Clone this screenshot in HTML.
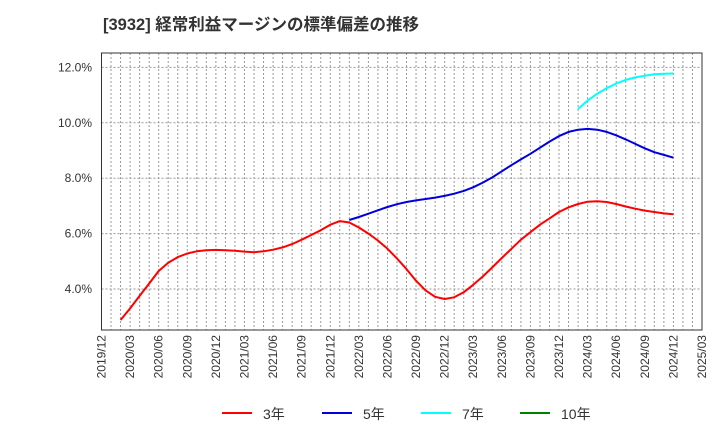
<!DOCTYPE html>
<html><head><meta charset="utf-8"><style>
body{margin:0;background:#fff;font-family:"Liberation Sans","Noto Sans CJK JP",sans-serif}
svg text{font-family:"Liberation Sans","Noto Sans CJK JP",sans-serif}
</style></head><body>
<svg id="c" width="720" height="440" xmlns="http://www.w3.org/2000/svg">
<text x="103" y="30" font-size="16.5" font-weight="bold" fill="#333">[3932]  経常利益マージンの標準偏差の推移</text>
<g id="grid"></g><g id="axes"></g><g id="series"></g><g id="legend"></g>
</svg>
<script>
const xLabels=["2019/12","2020/03","2020/06","2020/09","2020/12","2021/03","2021/06","2021/09","2021/12","2022/03","2022/06","2022/09","2022/12","2023/03","2023/06","2023/09","2023/12","2024/03","2024/06","2024/09","2024/12","2025/03"];
const yTicks=[4,6,8,10,12];
const s3Start=2;
const s3=[2.88,3.3,3.75,4.2,4.65,4.95,5.15,5.28,5.36,5.4,5.41,5.4,5.38,5.35,5.33,5.36,5.42,5.5,5.62,5.78,5.95,6.12,6.32,6.45,6.4,6.22,6.0,5.75,5.45,5.1,4.72,4.3,3.95,3.72,3.64,3.7,3.88,4.15,4.45,4.78,5.12,5.45,5.78,6.05,6.32,6.55,6.78,6.95,7.07,7.15,7.17,7.14,7.07,6.98,6.9,6.83,6.78,6.73,6.7];
const s5Start=26;
const s5=[6.49,6.6,6.72,6.84,6.96,7.06,7.14,7.2,7.25,7.3,7.36,7.44,7.54,7.67,7.84,8.03,8.25,8.47,8.68,8.88,9.1,9.32,9.52,9.67,9.75,9.78,9.75,9.67,9.55,9.4,9.24,9.08,8.94,8.84,8.74];
const s7Start=50;
const s7=[10.5,10.8,11.05,11.25,11.42,11.55,11.64,11.7,11.75,11.77,11.78];
const s10Start=0;
const s10=[];
const L=101.5,R=702,T=53,B=330,NM=63;
const X=m=>L+(R-L)*m/NM;
const Y=v=>289-(v-4)*27.7;
const NS="http://www.w3.org/2000/svg";
function mk(tag,attrs,parent){const e=document.createElementNS(NS,tag);for(const k in attrs)e.setAttribute(k,attrs[k]);document.getElementById(parent).appendChild(e);return e;}
for(let m=1;m<NM;m++){
 const g=mk('line',{x1:X(m),x2:X(m),y1:T,y2:B,stroke:'#999','stroke-dasharray':'2,2','stroke-width':1},'grid');
 
 
}
yTicks.forEach(v=>{
 const g=mk('line',{x1:L,x2:R,y1:Y(v),y2:Y(v),stroke:'#999','stroke-dasharray':'2,2','stroke-width':1},'grid');
 
 
 const t=mk('text',{x:92,y:Y(v)+4,'text-anchor':'end','font-size':12,fill:'#333'},'axes');
 t.textContent=v.toFixed(1)+'%';
 
 
});
const fr=mk('rect',{x:L,y:T,width:R-L,height:B-T,fill:'none',stroke:'#333','stroke-width':1},'axes');


xLabels.forEach((lab,i)=>{
 const x=X(i*3);
 const t=mk('text',{x:0,y:0,'text-anchor':'end','font-size':12,fill:'#333',transform:`translate(${x+4},${B+5}) rotate(-90)`},'axes');
 t.textContent=lab;
 
 
});
function line(arr,start,color,name){
 if(!arr.length)return;
 const d=arr.map((v,i)=>(i?'L':'M')+X(start+i).toFixed(1)+','+Y(v).toFixed(1)).join(' ');
 const p=mk('path',{d:d,fill:'none',stroke:color,'stroke-width':2,'stroke-linejoin':'round'},'series');
 
 
}
line(s3,s3Start,'#ff0000','series-3yr');
line(s5,s5Start,'#0000dd','series-5yr');
line(s7,s7Start,'#00ffff','series-7yr');
line(s10,s10Start,'#008000','series-10yr');
const leg=[['3年','#ff0000',222],['5年','#0000dd',322],['7年','#00ffff',421],['10年','#008000',520]];
leg.forEach(([n,c,x])=>{
 const l=mk('line',{x1:x,x2:x+30,y1:413,y2:413,stroke:c,'stroke-width':2},'legend');
 
 
 const t=mk('text',{x:x+41,y:419,'font-size':14,fill:'#333'},'legend');
 t.textContent=n;
 
 
});
</script>
</body></html>
